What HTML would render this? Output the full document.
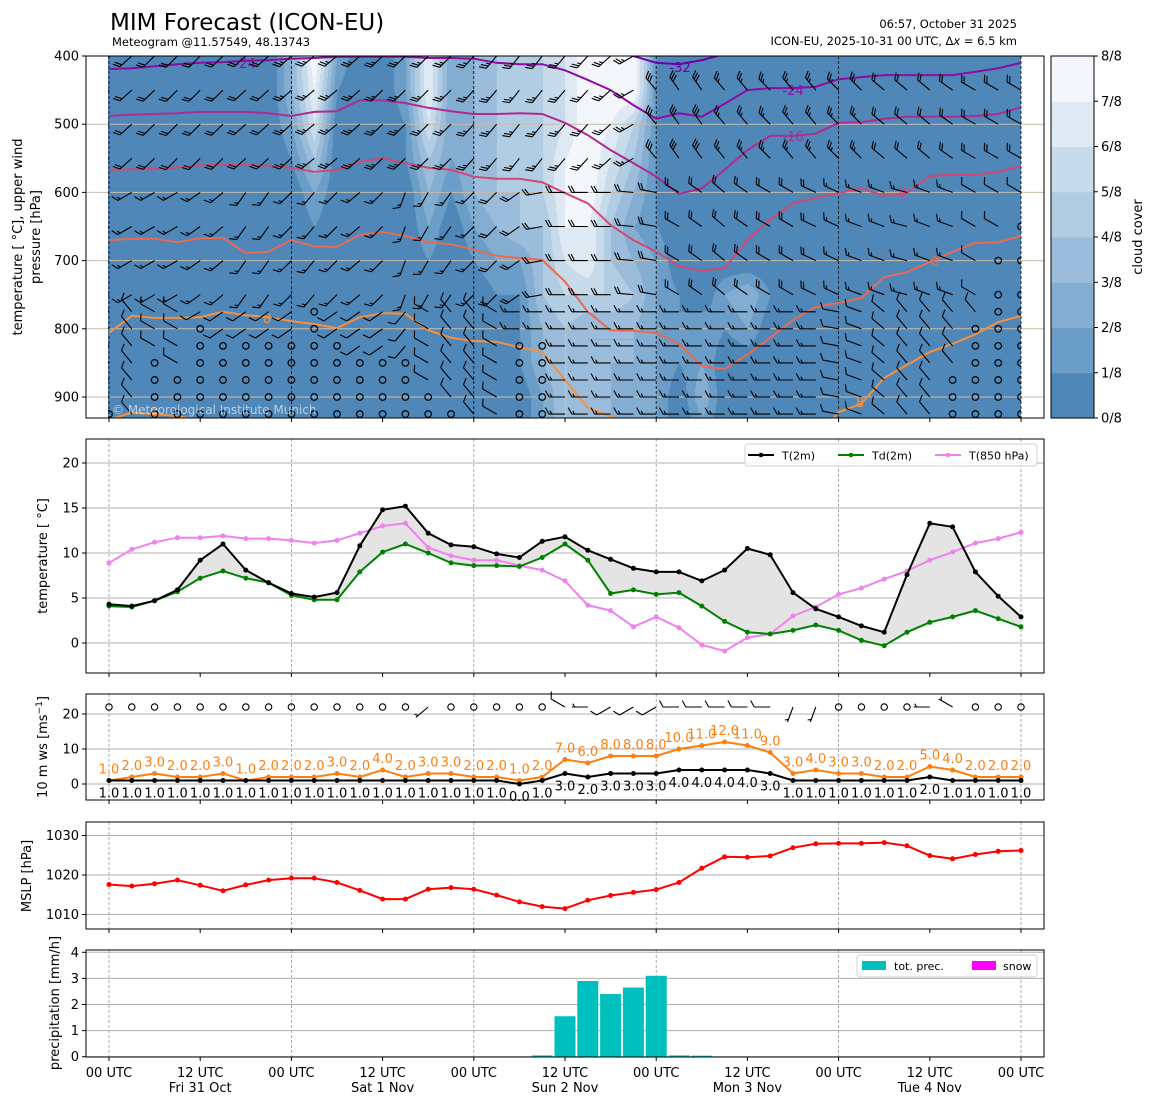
<!DOCTYPE html>
<html><head><meta charset="utf-8">
<style>
html,body{margin:0;padding:0;background:#fff;width:1155px;height:1105px;overflow:hidden}
#wrap{position:relative;width:1155px;height:1105px}
#cloud{position:absolute;left:108px;top:56px}
#chart{position:absolute;left:0;top:0}
text{font-family:"DejaVu Sans","Liberation Sans",sans-serif}
</style></head>
<body>
<div id="wrap">
<canvas id="cloud" width="913" height="362"></canvas>
<svg id="chart" width="1155" height="1105" xmlns="http://www.w3.org/2000/svg"></svg>
</div>
<script>
// ---------- DATA ----------
const hours = [0,3,6,9,12,15,18,21,24,27,30,33,36,39,42,45,48,51,54,57,60,63,66,69,72,75,78,81,84,87,90,93,96,99,102,105,108,111,114,117,120];
const xTickHours = [0,12,24,36,48,60,72,84,96,108,120];
const xTickTop = ["00 UTC","12 UTC","00 UTC","12 UTC","00 UTC","12 UTC","00 UTC","12 UTC","00 UTC","12 UTC","00 UTC"];
const xTickBottom = ["","Fri 31 Oct","","Sat 1 Nov","","Sun 2 Nov","","Mon 3 Nov","","Tue 4 Nov",""];
const t2m = [4.3,4.1,4.7,5.9,9.2,11.0,8.1,6.7,5.5,5.1,5.6,10.8,14.8,15.2,12.2,10.9,10.7,9.9,9.5,11.3,11.8,10.3,9.3,8.3,7.9,7.9,6.9,8.1,10.5,9.8,5.6,3.8,2.9,1.9,1.2,7.6,13.3,12.9,7.9,5.2,2.9];
const td2m = [4.1,4.0,4.7,5.7,7.2,8.0,7.2,6.7,5.3,4.8,4.8,7.9,10.1,11.0,10.0,8.9,8.6,8.6,8.5,9.5,11.0,9.2,5.5,5.9,5.4,5.6,4.1,2.4,1.2,1.0,1.4,2.0,1.4,0.3,-0.3,1.2,2.3,2.9,3.6,2.7,1.8];
const t850 = [8.9,10.4,11.2,11.7,11.7,11.9,11.6,11.6,11.4,11.1,11.4,12.2,13.0,13.3,10.6,9.7,9.2,9.2,8.6,8.1,6.9,4.2,3.6,1.8,2.9,1.7,-0.2,-0.9,0.6,1.0,3.0,4.0,5.4,6.1,7.1,8.0,9.2,10.1,11.1,11.6,12.3];
const gust = [1,2,3,2,2,3,1,2,2,2,3,2,4,2,3,3,2,2,1,2,7,6,8,8,8,10,11,12,11,9,3,4,3,3,2,2,5,4,2,2,2];
const ws10 = [1,1,1,1,1,1,1,1,1,1,1,1,1,1,1,1,1,1,0,1,3,2,3,3,3,4,4,4,4,3,1,1,1,1,1,1,2,1,1,1,1];
const ws10Dir = [null,null,null,null,null,null,null,null,null,null,null,null,null,null,230,null,null,null,null,null,300,270,240,240,240,270,270,270,270,270,200,200,null,null,null,null,270,300,null,null,null];
const mslp = [1017.6,1017.2,1017.8,1018.7,1017.4,1016.0,1017.5,1018.7,1019.2,1019.2,1018.1,1016.1,1013.9,1013.9,1016.4,1016.8,1016.4,1014.9,1013.2,1012.0,1011.5,1013.6,1014.8,1015.6,1016.3,1018.1,1021.7,1024.6,1024.5,1024.8,1026.9,1027.9,1028.0,1028.0,1028.2,1027.4,1024.9,1024.1,1025.2,1026.0,1026.2];
const precip = [0,0,0,0,0,0,0,0,0,0,0,0,0,0,0,0,0,0,0,0.05,1.55,2.9,2.4,2.65,3.1,0.05,0.04,0,0,0,0,0,0,0,0,0,0,0,0,0,0];
const snow = [0,0,0,0,0,0,0,0,0,0,0,0,0,0,0,0,0,0,0,0,0,0,0,0,0,0,0,0,0,0,0,0,0,0,0,0,0,0,0,0,0];
// cloud cover (octas) at pressure levels
const cloudLevels = [400,450,500,550,600,650,700,750,800,850,900,930];
const cloud400 = [0,0,0,0,0,0,0,0,3,8,2,0,0,2,7,2,3,4,4,5,6,8,8,8,1,0,0,0,0,0,0,0,0,0,0,0,0,0,0,0,0];
const cloud450 = [0,0,0,0,0,0,0,0,3,7,1,0,0,2,7,2,3,4,4,5,6,8,8,8,1,0,0,0,0,0,0,0,0,0,0,0,0,0,0,0,0];
const cloud500 = [0,0,0,0,0,0,0,0,2,6,0,0,0,1,6,2,3,4,4,5,6,8,7,5,1,0,0,0,0,0,0,0,0,0,0,0,0,0,0,0,0];
const cloud550 = [0,0,0,0,0,0,0,0,1,4,0,0,0,1,4,2,3,4,4,5,7,8,6,4,1,0,0,0,0,0,0,0,0,0,0,0,0,0,0,0,0];
const cloud600 = [0,0,0,0,0,0,0,0,0,2,0,0,0,0,3,1,3,4,4,5,7,8,5,3,1,0,0,0,0,0,0,0,0,0,0,0,0,0,0,0,0];
const cloud650 = [0,0,0,0,0,0,0,0,0,1,0,0,0,0,2,0,2,3,4,4,7,7,4,2,1,0,0,0,0,0,0,0,0,0,0,0,0,0,0,0,0];
const cloud700 = [0,0,0,0,0,0,0,0,0,0,0,0,0,0,1,0,1,2,2,4,6,7,4,3,2,0,0,0,0,0,0,0,0,0,0,0,0,0,0,0,0];
const cloud750 = [0,0,0,0,0,0,0,0,0,0,0,0,0,0,0,0,0,1,1,4,5,5,5,4,2,1,0,2,3,1,0,0,0,0,0,0,0,0,0,0,0];
const cloud800 = [0,0,0,0,0,0,0,0,0,0,0,0,0,0,0,0,0,0,1,3,4,3,3,3,2,1,2,1,2,0,0,0,0,0,0,0,0,0,0,0,0];
const cloud850 = [0,0,0,0,0,0,0,0,0,0,0,0,0,0,0,0,0,0,1,3,4,3,3,3,2,1,2,0,0,0,0,0,0,0,0,0,0,0,0,0,0];
const cloud900 = [0,0,0,0,0,0,0,0,0,0,0,0,0,0,0,0,0,0,0,2,4,3,3,2,2,0,3,0,0,0,0,0,0,0,0,0,0,0,0,0,0];
const cloud930 = [0,0,0,0,0,0,0,0,0,0,0,0,0,0,0,0,0,0,0,2,4,3,3,2,2,0,2,0,0,0,0,0,0,0,0,0,0,0,0,0,0];
// isotherms (pressure of contour at each time, hPa)
const iso32 = [380,380,380,380,380,380,380,380,380,380,380,380,380,380,380,380,380,380,380,380,380,380,391,400,410,412,406,397,380,380,380,380,380,380,380,380,380,380,380,380,380];
const iso24 = [419,418,415,412,410,409,407,406,404,403,401,401,401,401,403,403,404,410,412,412,421,435,450,472,492,484,489,470,450,447,447,445,434,431,428,428,428,428,423,418,410];
const iso16 = [488,486,485,484,482,482,482,484,488,482,481,465,465,469,476,481,485,485,484,485,498,516,538,557,577,602,594,567,538,517,517,514,498,497,492,489,489,489,488,485,475];
const iso8n = [567,566,566,563,560,560,560,561,564,570,567,555,550,557,564,567,577,580,580,585,601,616,648,670,687,708,715,711,670,640,616,608,601,594,605,601,576,574,574,570,561];
const iso0 = [670,668,668,673,667,667,689,687,670,679,680,662,658,664,673,676,684,693,696,699,731,775,802,803,806,822,855,859,838,813,787,768,762,755,724,717,702,687,674,673,664];
const iso8 = [806,781,784,784,783,775,780,783,789,793,799,783,777,778,802,813,818,819,827,834,875,916,928,941,963,963,963,963,963,963,963,963,922,910,872,853,834,822,808,790,781];
const iso8b = [933,923,925,928,934,963,963,963,963,963,963,963,963,963,963,963,963,963,963,963,963,963,963,963,963,963,963,963,963,963,963,963,963,963,963,963,963,963,963,963,963];
// upper winds (direction deg, speed kt)
const barbLevels = [400,450,500,550,600,650,700,750,775,800,825,850,875,900,925];
const dirUpper = [228,228,226,225,225,226,228,228,228,230,230,228,226,226,225,225,222,220,218,218,220,222,228,240,320,325,325,320,320,315,320,320,315,315,310,310,310,305,300,300,300];
const spdUpper = [20,20,20,20,20,20,20,20,25,25,25,25,25,25,25,25,25,25,25,25,25,25,25,25,30,30,30,25,25,25,25,25,25,25,20,20,20,20,20,20,20];
const dirMid = [240,240,240,240,235,230,215,215,225,220,225,230,225,200,210,215,225,225,235,260,270,270,270,275,280,300,305,310,305,300,300,295,295,290,290,285,290,290,300,300,300];
const spdMid = [15,15,15,15,15,15,15,15,15,15,15,15,15,15,15,15,15,20,20,20,20,20,20,20,20,20,20,20,20,20,20,20,15,15,15,15,15,15,10,10,10];
const dirLow = [320,320,300,300,240,235,235,235,235,235,235,235,235,220,300,320,320,300,270,270,270,270,270,270,270,270,270,270,270,270,270,270,280,290,310,320,320,320,320,320,320];
const spdLow = [10,10,10,10,10,10,10,10,10,10,10,10,10,10,10,10,10,10,15,15,15,15,15,15,15,15,15,15,15,15,15,15,10,10,10,10,10,10,10,10,10];
const calmFrom = [925,1000,850,875,800,825,825,825,825,775,825,850,850,850,900,925,1000,1000,825,825,1000,1000,1000,1000,1000,1000,1000,1000,1000,1000,1000,1000,1000,1000,1000,1000,1000,875,800,700,650];

// ---------- HELPERS ----------
const svg = document.getElementById('chart');
const NS = 'http://www.w3.org/2000/svg';
function mk(tag, attrs, parent){const e=document.createElementNS(NS,tag);for(const k in attrs)e.setAttribute(k,attrs[k]);(parent||svg).appendChild(e);return e;}
function txt(s, attrs, parent){const e=mk('text',attrs,parent);e.textContent=s;return e;}
const X0=109, X1=1021, AL=86, AR=1044;
const xS = h => X0 + h*(X1-X0)/120;
const P = {top:{y0:56,y1:418}, t:{y0:439,y1:673}, w:{y0:694,y1:800}, m:{y0:822,y1:929}, r:{y0:950,y1:1057}};
const yP = p => 56 + (p-400)*0.682;
const yT = v => 643 - v*9;
const yW = v => 784 - v*3.5;
const yM = v => 875 - (v-1020)*3.95;
const yR = v => 1056.7 - v*26.1;

// ---------- CLOUD FIELD (canvas) ----------
const bandColors=[[79,135,184],[106,157,199],[132,173,210],[155,189,219],[176,205,227],[200,219,235],[223,233,243],[243,247,251]];
(function(){
  const cv=document.getElementById('cloud'), ctx=cv.getContext('2d');
  const W=cv.width,H=cv.height, img=ctx.createImageData(W,H);
  const grid=[cloud400,cloud450,cloud500,cloud550,cloud600,cloud650,cloud700,cloud750,cloud800,cloud850,cloud900,cloud930];
  for(let py=0;py<H;py++){
    const p=400+py/0.682;
    let li=0; while(li<cloudLevels.length-2 && p>cloudLevels[li+1]) li++;
    let fy=(p-cloudLevels[li])/(cloudLevels[li+1]-cloudLevels[li]); fy=Math.max(0,Math.min(1,fy));
    for(let px=0;px<W;px++){
      const c=(px+108-X0)/((X1-X0)/40);
      let ci=Math.floor(c); if(ci<0)ci=0; if(ci>39)ci=39;
      let fx=c-ci; fx=Math.max(0,Math.min(1,fx));
      const a=grid[li][ci]*(1-fx)+grid[li][ci+1]*fx;
      const b=grid[li+1][ci]*(1-fx)+grid[li+1][ci+1]*fx;
      const v=a*(1-fy)+b*fy;
      let k=Math.floor(v); if(k<0)k=0; if(k>7)k=7;
      const col=bandColors[k], o=(py*W+px)*4;
      img.data[o]=col[0];img.data[o+1]=col[1];img.data[o+2]=col[2];img.data[o+3]=255;
    }
  }
  ctx.putImageData(img,0,0);
})();

// ---------- TITLE ----------
txt('MIM Forecast (ICON-EU)',{x:110,y:30,'font-size':23,fill:'#000',});
txt('Meteogram @11.57549, 48.13743',{x:112,y:46,'font-size':11.5,fill:'#000',});
txt('06:57, October 31 2025',{x:1017,y:28,'font-size':11.5,'text-anchor':'end',});
const mi=txt('',{x:1017,y:45,'font-size':11.5,'text-anchor':'end',});
mi.innerHTML='ICON-EU, 2025-10-31 00 UTC, Δ<tspan font-style="italic">x</tspan> = 6.5 km';

// ---------- clip paths ----------
const defs=mk('defs',{});
const cp=mk('clipPath',{id:'clipTop'},defs); mk('rect',{x:108,y:56,width:913,height:362},cp);

// ---------- TOP PANEL ----------
const gTop=mk('g',{});
[500,600,700,800,900].forEach(p=>{const l=mk('line',{x1:AL,x2:AR,y1:yP(p),y2:yP(p),stroke:'#c8bca8','stroke-width':1},gTop);});
xTickHours.filter((h,i)=>i%2===0).forEach(h=>{const l=mk('line',{x1:xS(h),x2:xS(h),y1:56,y2:418,stroke:'#000','stroke-width':0.8,'stroke-dasharray':'3,2'},gTop);});
// isotherms
const isoDefs=[[iso32,'#6a00a8','isotherm-minus32'],[iso24,'#8e0ca4','isotherm-minus24'],[iso16,'#b02b91','isotherm-minus16'],[iso8n,'#cf4a74','isotherm-minus8'],[iso0,'#e86a55','isotherm-0'],[iso8,'#f6903f','isotherm-8'],[iso8b,'#f6903f','isotherm-8-low']];
const gIso=mk('g',{'clip-path':'url(#clipTop)'},gTop);
isoDefs.forEach(([arr,col,nm])=>{
  const pts=arr.map((p,i)=>xS(hours[i]).toFixed(1)+','+yP(p).toFixed(1)).join(' ');
  const pl=mk('polyline',{points:pts,fill:'none',stroke:col,'stroke-width':2},gIso);
  
  
});
const isoLabels=[['-24',245,68,'#8e0ca4'],['-32',680,72,'#6a00a8'],['-24',793,95,'#8e0ca4'],['-16',793,141,'#b02b91'],['-8',900,197,'#cf4a74'],['0',935,266,'#e86a55'],['8',267,323,'#f6903f'],['8',860,407,'#f6903f'],['8',154,417,'#f6903f']];
isoLabels.forEach(([s,x,y,c])=>{const t=txt(s,{x:x,y:y,'font-size':13,fill:c,'text-anchor':'middle'},gIso);});

// barbs
function barb(g,x,y,dir,spd){
  const r=dir*Math.PI/180;
  const ux=Math.sin(r), uy=-Math.cos(r), L=16;
  const ex=x+ux*L, ey=y+uy*L;
  let d='M'+x.toFixed(1)+' '+y.toFixed(1)+'L'+ex.toFixed(1)+' '+ey.toFixed(1);
  const fx=-uy, fy=ux;
  let full=Math.floor(spd/10), half=(spd%10)>=5?1:0, pos=0;
  for(let k=0;k<full;k++){const bx=ex-ux*pos, by=ey-uy*pos; d+='M'+bx.toFixed(1)+' '+by.toFixed(1)+'L'+(bx+fx*6.5+ux*3.5).toFixed(1)+' '+(by+fy*6.5+uy*3.5).toFixed(1); pos+=2.8;}
  if(half){if(full===0)pos=2.8;const bx=ex-ux*pos, by=ey-uy*pos; d+='M'+bx.toFixed(1)+' '+by.toFixed(1)+'L'+(bx+fx*3.3+ux*1.8).toFixed(1)+' '+(by+fy*3.3+uy*1.8).toFixed(1);}
  return mk('path',{d:d,stroke:'#000','stroke-width':1.1,fill:'none'},g);
}
const gBarb=mk('g',{'clip-path':'url(#clipTop)'},gTop);
hours.forEach((h,i)=>{
  barbLevels.forEach(p=>{
    const x=xS(h), y=yP(p);
    if(p>=calmFrom[i]){
      const c=mk('circle',{cx:x,cy:y,r:3.3,fill:'none',stroke:'#000','stroke-width':1.2},gBarb);
      
      
    } else {
      let d,s;
      if(p<=550){d=dirUpper[i];s=spdUpper[i];} else if(p<=750){d=dirMid[i];s=spdMid[i];} else {d=dirLow[i];s=spdLow[i];}
      const b=barb(gBarb,x,y,d,s);
      
      
    }
  });
});
txt('© Meteorological Institute Munich',{x:112,y:414,'font-size':12,fill:'rgba(255,255,255,0.6)',});
mk('rect',{x:AL,y:56,width:AR-AL,height:362,fill:'none',stroke:'#000','stroke-width':1});
[400,500,600,700,800,900].forEach(p=>{
  mk('line',{x1:AL-4,x2:AL,y1:yP(p),y2:yP(p),stroke:'#000'});
  const t=txt(String(p),{x:AL-7,y:yP(p)+4.5,'font-size':13,'text-anchor':'end'});
  
  
});
xTickHours.forEach(h=>mk('line',{x1:xS(h),x2:xS(h),y1:418,y2:422,stroke:'#000'}));
txt('temperature [ °C], upper wind',{x:0,y:0,'font-size':13,'text-anchor':'middle',transform:'translate(22,237) rotate(-90)',});
txt('pressure [hPa]',{x:0,y:0,'font-size':13,'text-anchor':'middle',transform:'translate(40,237) rotate(-90)',});

// colorbar
const gCb=mk('g',{});
const cbH=362/8;
bandColors.forEach((c,k)=>{const r=mk('rect',{x:1051,y:418-(k+1)*cbH,width:43,height:cbH+0.5,fill:'rgb('+c.join(',')+')'},gCb);});
mk('rect',{x:1051,y:56,width:43,height:362,fill:'none',stroke:'#000'},gCb);
for(let k=0;k<=8;k++){const y=418-k*cbH;mk('line',{x1:1094,x2:1098,y1:y,y2:y,stroke:'#000'},gCb);txt(k+'/8',{x:1101,y:y+4.5,'font-size':13},gCb);}
txt('cloud cover',{x:0,y:0,'font-size':13,'text-anchor':'middle',transform:'translate(1142,237) rotate(-90)'},gCb);

// ---------- generic panel frame ----------
function panel(key,name,ticks,yf,fmt,grid){
  const g=mk('g',{});
  const y0=P[key].y0,y1=P[key].y1;
  ticks.forEach(v=>{
    const y=yf(v);
    if(grid){const l=mk('line',{x1:AL,x2:AR,y1:y,y2:y,stroke:'#b0b0b0','stroke-width':1},g);}
    mk('line',{x1:AL-4,x2:AL,y1:y,y2:y,stroke:'#000'},g);
    const t=txt(fmt(v),{x:AL-7,y:y+4.5,'font-size':13,'text-anchor':'end'},g);
    
    
  });
  xTickHours.forEach((h,i)=>{
    const x=xS(h);
    if(i%2===0){const l=mk('line',{x1:x,x2:x,y1:y0,y2:y1,stroke:'#999','stroke-width':0.8,'stroke-dasharray':'3,2'},g);}
    mk('line',{x1:x,x2:x,y1:y1,y2:y1+4,stroke:'#000'},g);
  });
  return g;
}
function frame(key){mk('rect',{x:AL,y:P[key].y0,width:AR-AL,height:P[key].y1-P[key].y0,fill:'none',stroke:'#000','stroke-width':1});}

// ---------- TEMPERATURE ----------
const gT=panel('t','temperature-panel',[0,5,10,15,20],yT,v=>String(v),true);
const up=t2m.map((v,i)=>xS(hours[i])+','+yT(v)).join(' ');
const dn=td2m.map((v,i)=>xS(hours[i])+','+yT(v)).reverse().join(' ');
const fillP=mk('polygon',{points:up+' '+dn,fill:'#e4e4e4',stroke:'none'},gT);


function series(g,arr,yf,col,name,w){
  const pl=mk('polyline',{points:arr.map((v,i)=>xS(hours[i]).toFixed(1)+','+yf(v).toFixed(1)).join(' '),fill:'none',stroke:col,'stroke-width':w||2},g);
  
  
  arr.forEach((v,i)=>{
    const c=mk('circle',{cx:xS(hours[i]),cy:yf(v),r:2.5,fill:col},g);
    
    
  });
}
series(gT,t850,yT,'#ee82ee','t850');
series(gT,td2m,yT,'#008000','td2m');
series(gT,t2m,yT,'#000','t2m');
frame('t');
const lg=mk('g',{});
mk('rect',{x:745,y:444,width:292,height:22,rx:3,fill:'#fff','fill-opacity':0.85,stroke:'#d0d0d0'},lg);
[['T(2m)','#000',748],['Td(2m)','#008000',838],['T(850 hPa)','#ee82ee',935]].forEach(([s,c,x])=>{
  const e=mk('g',{},lg);
  
  
  mk('line',{x1:x,x2:x+26,y1:455,y2:455,stroke:c,'stroke-width':2},e);
  mk('circle',{cx:x+13,cy:455,r:2.3,fill:c},e);
  txt(s,{x:x+34,y:459.5,'font-size':11},e);
});
txt('temperature [ °C]',{x:0,y:0,'font-size':13,'text-anchor':'middle',transform:'translate(47,556) rotate(-90)',});

// ---------- WIND ----------
const gW=panel('w','wind-panel',[0,10,20],yW,v=>String(v),true);
series(gW,gust,yW,'#ff7f0e','gust');
series(gW,ws10,yW,'#000','wind-speed');
gust.forEach((v,i)=>{const t=txt(v.toFixed(1),{x:xS(hours[i]),y:yW(v)-7,'font-size':13,fill:'#ff7f0e','text-anchor':'middle'},gW);});
ws10.forEach((v,i)=>{const t=txt(v.toFixed(1),{x:xS(hours[i]),y:yW(v)+17,'font-size':13,fill:'#000','text-anchor':'middle'},gW);});
ws10Dir.forEach((d,i)=>{
  const x=xS(hours[i]), y=707;
  if(d===null){const c=mk('circle',{cx:x,cy:y,r:3.2,fill:'none',stroke:'#000','stroke-width':1.1},gW);}
  else{const b=barb(gW,x,y,d,ws10[i]>=3?10:5);}
});
frame('w');
const wl=txt('',{x:0,y:0,'font-size':13,'text-anchor':'middle',transform:'translate(47,747) rotate(-90)',});
wl.innerHTML='10 m ws [ms<tspan dy="-5" font-size="9">−1</tspan><tspan dy="5">]</tspan>';

// ---------- MSLP ----------
const gM=panel('m','mslp-panel',[1010,1020,1030],yM,v=>String(v),true);
series(gM,mslp,yM,'#ff0000','mslp');
frame('m');
txt('MSLP [hPa]',{x:0,y:0,'font-size':13,'text-anchor':'middle',transform:'translate(31,876) rotate(-90)',});

// ---------- PRECIP ----------
const gR=panel('r','precipitation-panel',[0,1,2,3,4],yR,v=>String(v),true);
precip.forEach((v,i)=>{
  if(v<=0)return;
  const r=mk('rect',{x:xS(hours[i])-10.5,y:yR(v),width:21,height:yR(0)-yR(v),fill:'#00bfbf'},gR);
  
  
});
snow.forEach((v,i)=>{
  if(v<=0)return;
  const r=mk('rect',{x:xS(hours[i])-10.5,y:yR(v),width:21,height:yR(0)-yR(v),fill:'#ff00ff'},gR);
  
  
});
frame('r');
const pl2=mk('g',{});
mk('rect',{x:857,y:955,width:180,height:22,rx:3,fill:'#fff','fill-opacity':0.85,stroke:'#d0d0d0'},pl2);
mk('rect',{x:862,y:961,width:24,height:9,fill:'#00bfbf'},pl2);
txt('tot. prec.',{x:894,y:970,'font-size':11},pl2);
mk('rect',{x:972,y:961,width:24,height:9,fill:'#ff00ff'},pl2);
txt('snow',{x:1003,y:970,'font-size':11},pl2);
txt('precipitation [mm/h]',{x:0,y:0,'font-size':13,'text-anchor':'middle',transform:'translate(59,1003) rotate(-90)',});
xTickHours.forEach((h,i)=>{
  const t=txt(xTickTop[i],{x:xS(h),y:1077,'font-size':13,'text-anchor':'middle'});
  
  
  if(xTickBottom[i]){const d=txt(xTickBottom[i],{x:xS(h),y:1092,'font-size':13,'text-anchor':'middle'});}
});
</script>
</body></html>
